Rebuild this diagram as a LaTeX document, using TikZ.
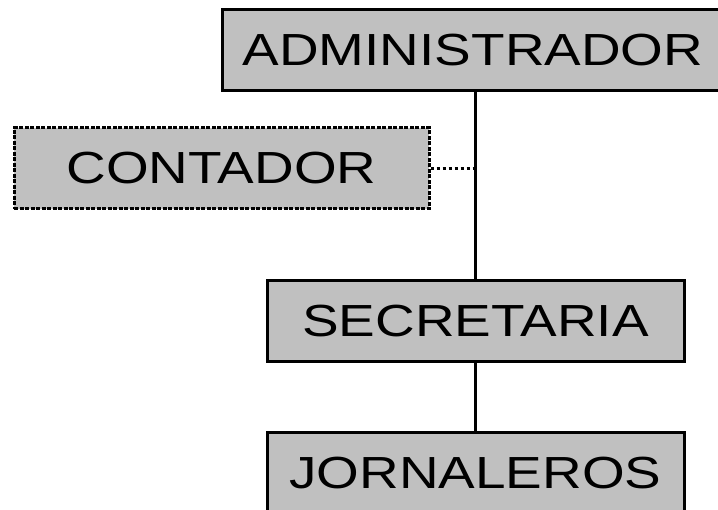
\documentclass[tikz,border=0pt]{standalone}
\usepackage{fontspec}
\newfontfamily\orgfont[FakeStretch=1.22]{Liberation Sans}
\definecolor{boxgray}{RGB}{192,192,192}
\tikzset{
  orgbox/.style={draw=black, line width=3pt, fill=boxgray, rectangle,
    minimum height=81pt, inner sep=0pt,
    font=\orgfont\fontsize{45pt}{50pt}\selectfont},
  link/.style={draw=black, line width=3pt},
  aidlink/.style={draw=black, line width=3pt, dash pattern=on 3pt off 3pt},
}
\begin{document}
\begin{tikzpicture}[x=1pt, y=-1pt]
  \useasboundingbox (0,0) rectangle (718,510);
  \clip (0,0) rectangle (718,510);
  % boxes
  \node[orgbox, minimum width=502pt] (admin) at (473,50.5) {ADMINISTRADOR};
  \node[orgbox, minimum width=415pt, dash pattern=on 4pt off 1.5pt] (cont) at (221.5,168.5) {CONTADOR};
  \node[orgbox, minimum width=417pt] (sec) at (475.5,321.5) {SECRETARIA};
  \node[orgbox, minimum width=417pt] (jorn) at (475.5,473.5) {JORNALEROS};
  % connectors
  \draw[link] (admin.south -| sec.north) -- (sec.north);
  \draw[link] (sec.south) -- (jorn.north);
  \draw[aidlink] (cont.east) -- (cont.east -| sec.north);
\end{tikzpicture}
\end{document}
